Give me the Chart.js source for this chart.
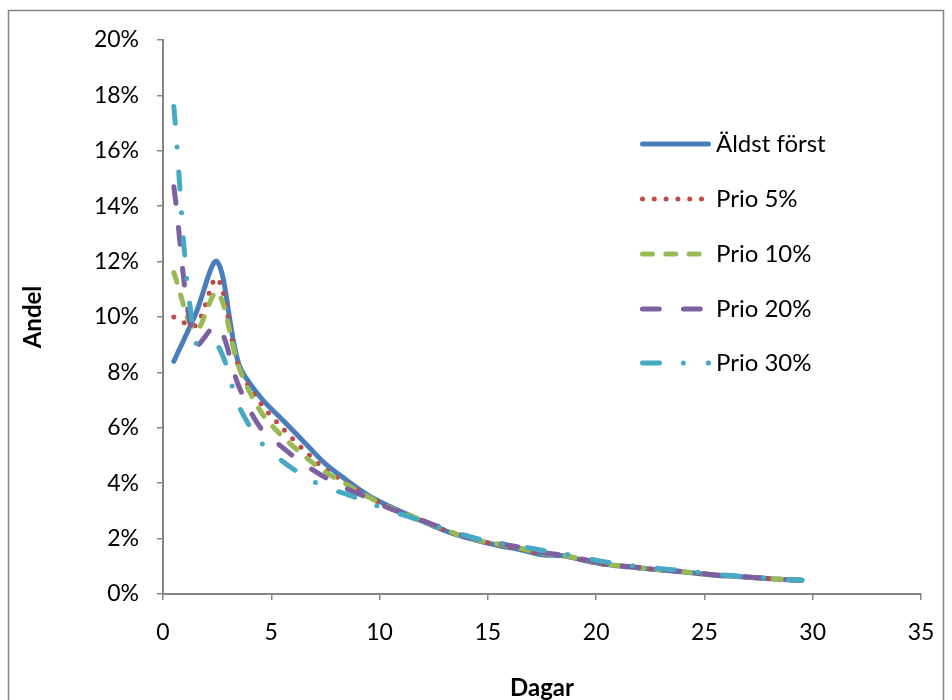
<!DOCTYPE html>
<html>
<head>
<meta charset="utf-8">
<script src="https://cdn.jsdelivr.net/npm/chart.js@4"></script>
<style>
  html, body { margin: 0; padding: 0; background: #fff; }
  #wrap { width: 952px; height: 700px; position: relative; }
</style>
</head>
<body>
<div id="wrap"><canvas id="c" width="952" height="700"></canvas></div>
<script>
// Dagar (x) and andel in percent for each queue strategy
const days = [0.5, 1.5, 2.5, 3.5, 4.5, 5.5, 6.5, 7.5, 8.5, 9.5,
              10.5, 11.5, 12.5, 13.5, 14.5, 15.5, 16.5, 17.5, 18.5, 19.5,
              20.5, 21.5, 22.5, 23.5, 24.5, 25.5, 26.5, 27.5, 28.5, 29.5];

const aldstForst = [8.4, 10.1, 12.0, 8.3, 7.1, 6.3, 5.5, 4.7, 4.1, 3.55,
                    3.15, 2.8, 2.45, 2.15, 1.93, 1.75, 1.6, 1.42, 1.38, 1.2,
                    1.06, 0.98, 0.9, 0.83, 0.76, 0.68, 0.63, 0.58, 0.53, 0.49];

const prio5 = [10.0, 9.7, 11.4, 8.2, 6.9, 6.0, 5.2, 4.5, 4.0, 3.5,
               3.12, 2.8, 2.47, 2.17, 1.95, 1.77, 1.62, 1.45, 1.38, 1.2,
               1.06, 0.98, 0.9, 0.84, 0.76, 0.69, 0.63, 0.58, 0.53, 0.49];

const prio10 = [11.6, 9.5, 10.9, 8.2, 6.6, 5.7, 5.0, 4.4, 3.95, 3.5,
                3.1, 2.8, 2.48, 2.18, 1.95, 1.8, 1.65, 1.47, 1.4, 1.22,
                1.07, 0.99, 0.91, 0.84, 0.76, 0.69, 0.64, 0.58, 0.53, 0.5];

const prio20 = [14.7, 9.0, 9.7, 7.5, 6.0, 5.3, 4.7, 4.2, 3.8, 3.45,
                3.08, 2.8, 2.5, 2.2, 1.98, 1.83, 1.68, 1.5, 1.4, 1.24,
                1.08, 0.99, 0.92, 0.85, 0.77, 0.69, 0.64, 0.59, 0.53, 0.5];

const prio30 = [17.6, 9.1, 9.0, 6.8, 5.5, 4.8, 4.27, 3.85, 3.6, 3.3,
                3.0, 2.75, 2.47, 2.22, 2.0, 1.85, 1.72, 1.58, 1.45, 1.3,
                1.15, 1.04, 0.95, 0.88, 0.8, 0.71, 0.65, 0.6, 0.54, 0.5];

const seriesNames = ['Äldst först', 'Prio 5%', 'Prio 10%', 'Prio 20%', 'Prio 30%'];
const xTicks = { min: 0, max: 35, step: 5 };
const yTicks = { min: 0, max: 20, step: 2 };

const styles = [
  { color: '#4A7EBB', dash: [] },
  { color: '#BE4B48', dash: [0, 11.8] },
  { color: '#98B954', dash: [10, 13.3] },
  { color: '#7D60A0', dash: [16.7, 24.3] },
  { color: '#46AAC5', dash: [17, 23.8, 0, 25] }
];

const values = [aldstForst, prio5, prio10, prio20, prio30];
const LINE_W = 5;
const FONT = 'Lato, "Open Sans", sans-serif';

const datasets = values.map((vals, i) => ({
  label: seriesNames[i],
  data: days.map((d, k) => ({ x: d, y: vals[k] })),
  borderColor: styles[i].color,
  backgroundColor: styles[i].color,
  borderWidth: LINE_W,
  borderDash: styles[i].dash,
  borderCapStyle: 'round',
  borderJoinStyle: 'round',
  pointRadius: 0,
  tension: 0.33,
  fill: false,
  order: 5 - i
}));

// white page with a thin grey frame
const frame = {
  id: 'frame',
  beforeDraw(chart) {
    const ctx = chart.ctx;
    ctx.save();
    ctx.fillStyle = '#fff';
    ctx.fillRect(0, 0, chart.width, chart.height);
    ctx.strokeStyle = '#868686';
    ctx.lineWidth = 1.5;
    ctx.strokeRect(8.5, 10.5, 935, 720);
    ctx.restore();
  }
};

// legend inside the plot area, on the right
const insideLegend = {
  id: 'insideLegend',
  afterDraw(chart) {
    const ctx = chart.ctx;
    const x0 = 640, x1 = 711, textX = 716;
    const rows = [144, 199, 254, 309, 363];
    ctx.save();
    chart.data.datasets.forEach((ds, i) => {
      const y = rows[i];
      ctx.beginPath();
      ctx.strokeStyle = ds.borderColor;
      ctx.lineWidth = LINE_W;
      ctx.lineCap = 'round';
      ctx.setLineDash(ds.borderDash);
      ctx.moveTo(x0 + 2.5, y);
      ctx.lineTo(x1 - 2.5, y);
      ctx.stroke();
      ctx.setLineDash([]);
      ctx.fillStyle = '#000';
      ctx.font = '24px ' + FONT;
      ctx.textAlign = 'left';
      ctx.textBaseline = 'middle';
      ctx.fillText(ds.label, textX, y);
    });
    ctx.restore();
  }
};

new Chart(document.getElementById('c'), {
  type: 'line',
  data: { datasets },
  plugins: [frame, insideLegend],
  options: {
    responsive: false,
    animation: false,
    devicePixelRatio: 1,
    layout: { padding: { left: 0, top: 40, right: 31, bottom: 0 } },
    plugins: { legend: { display: false }, tooltip: { enabled: false } },
    scales: {
      x: {
        type: 'linear',
        min: xTicks.min, max: xTicks.max,
        afterFit: s => { s.height = 106; s.paddingLeft = 0; s.paddingRight = 0; },
        ticks: {
          stepSize: xTicks.step,
          color: '#000',
          font: { family: FONT, size: 23 },
          padding: 19,
          maxRotation: 0
        },
        grid: { drawOnChartArea: false, drawTicks: true, tickLength: 6, color: '#868686', lineWidth: 1.5 },
        border: { display: true, color: '#868686', width: 2 },
        title: {
          display: true, text: 'Dagar', color: '#000',
          font: { family: FONT, size: 24, weight: 'bold', lineHeight: 1 },
          padding: { top: 1, bottom: 0 }
        }
      },
      y: {
        type: 'linear',
        min: yTicks.min, max: yTicks.max,
        afterFit: s => { s.width = 163; s.paddingTop = 0; s.paddingBottom = 0; },
        ticks: {
          stepSize: yTicks.step,
          color: '#000',
          font: { family: FONT, size: 23 },
          padding: 18,
          callback: v => v + '%'
        },
        grid: { drawOnChartArea: false, drawTicks: true, tickLength: 6, color: '#868686', lineWidth: 1.5 },
        border: { display: true, color: '#868686', width: 2 },
        title: {
          display: true, text: 'Andel', color: '#000',
          font: { family: FONT, size: 24, weight: 'bold', lineHeight: 1 },
          padding: { top: 21, bottom: 0 }
        }
      }
    }
  }
});
</script>
</body>
</html>
